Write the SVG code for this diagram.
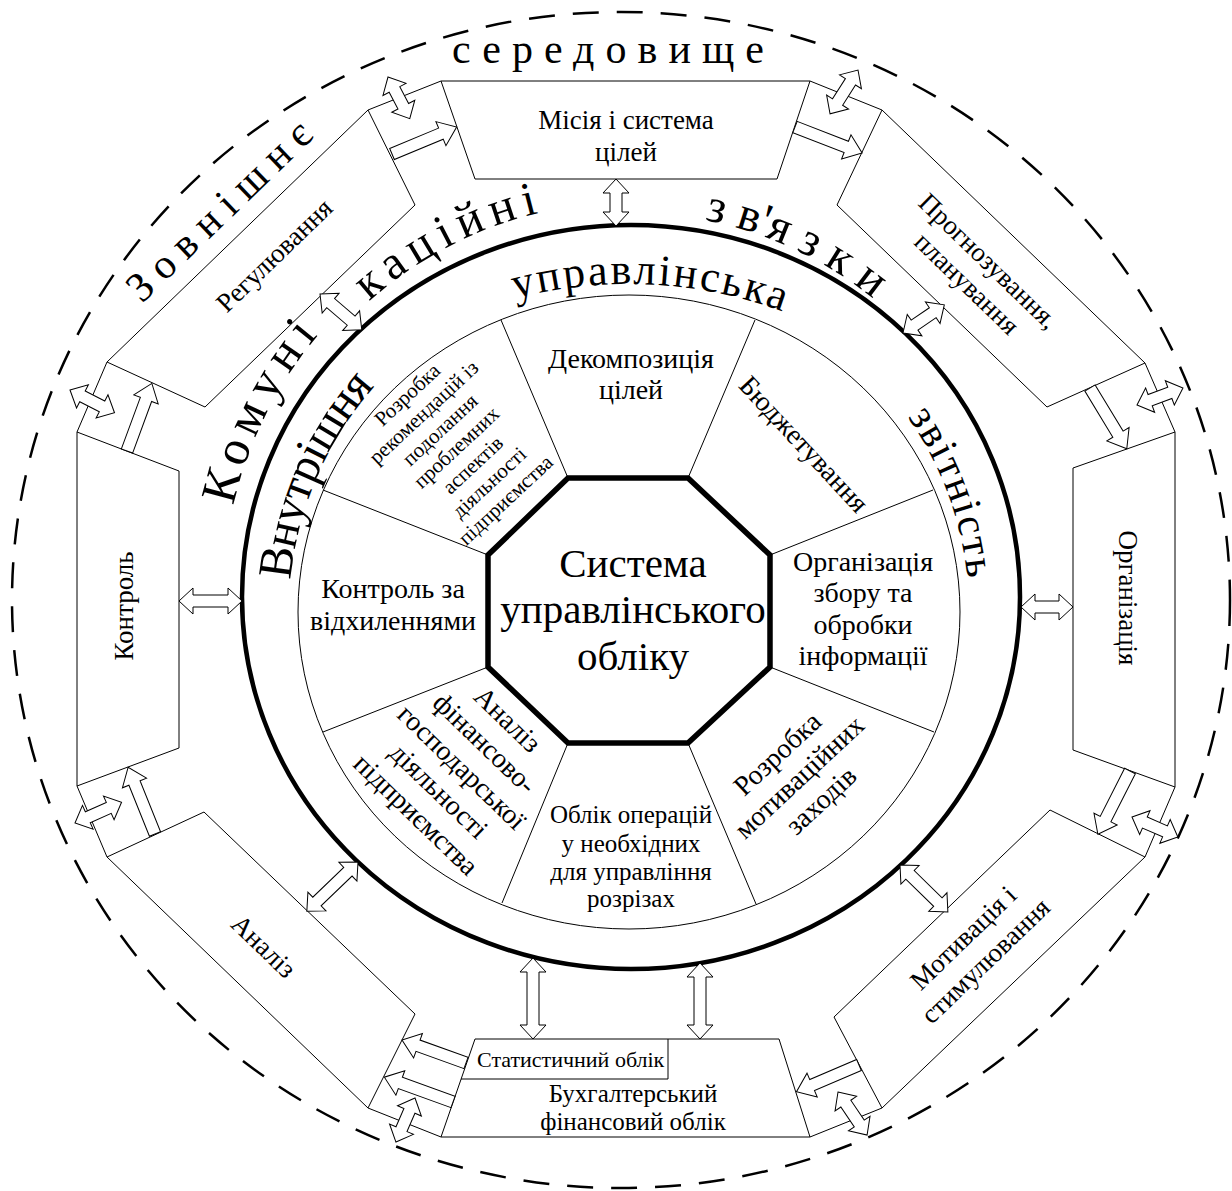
<svg xmlns="http://www.w3.org/2000/svg" width="1232" height="1191" viewBox="0 0 1232 1191">
<style>
.bx{fill:#fff;stroke:#000;stroke-width:1}
.ln{fill:none;stroke:#000;stroke-width:1}
.ar{fill:#fff;stroke:#000;stroke-width:1}
.t{font-family:"Liberation Serif","Times New Roman",serif;fill:#000}
.c{text-anchor:middle}
.bt{font-size:27px}
.st{font-size:28px}
</style>
<defs>
<path id="pUpr" d="M185,728 A444,444 0 0 1 1073,728"/>
<path id="pRing" d="M289,612 A340,340 0 0 1 969,612"/>
<path id="pKom1" d="M223,597 A408,408 0 0 1 1039,597"/>
<path id="pKom2" d="M236,597 A395,395 0 0 1 1026,597"/>
<path id="pKom3" d="M247,597 A384,384 0 0 1 1015,597"/>
</defs>
<rect width="1232" height="1191" fill="#fff"/>

<g id="environment">
<ellipse cx="621" cy="600" rx="609" ry="588" fill="none" stroke="#000" stroke-width="2.5" stroke-dasharray="26 18"/>
<text class="t" x="452" y="63" font-size="42" textLength="312" lengthAdjust="spacing">середовище</text>
<text class="t" transform="translate(220,212) rotate(-44)" x="-120" y="12" font-size="42" textLength="240" lengthAdjust="spacing">Зовнішнє</text>
</g>

<g id="outer-frame">
<path class="ln" d="M810,81 L882,110 M1145,363 L1175,432 M1175,787 L1145,857 M882,1108 L810,1137 M441,1137 L368,1108 M107,857 L77,786 M77,432 L107,362 M368,110 L441,81"/>
</g>

<g id="box-misia">
<polygon class="bx" points="441,81 810,81 777,179 475,179"/>
<text class="t c bt" x="626" y="129">Місія і система</text>
<text class="t c bt" x="626" y="161">цілей</text>
</g>
<g id="box-prognoz">
<polygon class="bx" points="882,110 1145,363 1047,407 837,205"/>
<g transform="translate(977,273) rotate(44)">
<text class="t c bt" x="0" y="-7.5">Прогнозування,</text>
<text class="t c bt" x="0" y="23.5">планування</text>
</g>
</g>
<g id="box-organiz">
<polygon class="bx" points="1073,468 1175,432 1175,787 1073,750"/>
<text class="t c bt" transform="translate(1127,598) rotate(90)" x="0" y="8">Організація</text>
</g>
<g id="box-motiv">
<polygon class="bx" points="1050,810 1145,857 882,1108 834,1017"/>
<g transform="translate(975,950) rotate(-44)">
<text class="t c bt" x="0" y="-8">Мотивація і</text>
<text class="t c bt" x="0" y="24">стимулювання</text>
</g>
</g>
<g id="box-buh">
<polygon class="bx" points="475,1039 779,1039 810,1137 441,1137"/>
<path class="ln" d="M668,1039 V1079 H461"/>
<text class="t" x="477" y="1067" font-size="22">Статистичний облік</text>
<text class="t c" x="633" y="1102" font-size="25">Бухгалтерський</text>
<text class="t c" x="633" y="1130" font-size="25">фінансовий облік</text>
</g>
<g id="box-analiz">
<polygon class="bx" points="204,812 415,1014 368,1108 107,857"/>
<text class="t c bt" transform="translate(263,947) rotate(44)" x="0" y="8">Аналіз</text>
</g>
<g id="box-kontrol">
<polygon class="bx" points="77,432 179,471 179,748 77,786"/>
<text class="t c bt" transform="translate(125,606) rotate(-90)" x="0" y="8">Контроль</text>
</g>
<g id="box-regul">
<polygon class="bx" points="368,110 415,205 205,407 107,362"/>
<text class="t c bt" transform="translate(275,256) rotate(-44)" x="0" y="8">Регулювання</text>
</g>

<g id="reporting-ring">
<ellipse cx="631" cy="597" rx="389" ry="372" fill="none" stroke="#000" stroke-width="4.5"/>
<ellipse cx="629" cy="612" rx="331" ry="317" fill="none" stroke="#000" stroke-width="1"/>
<text class="t" font-size="44"><textPath href="#pUpr" startOffset="582" textLength="272" lengthAdjust="spacing">управлінська</textPath></text>
<text class="t" font-size="48"><textPath href="#pRing" startOffset="32" textLength="215" lengthAdjust="spacing">Внутрішня</textPath></text>
<text class="t" font-size="42"><textPath href="#pRing" startOffset="860" textLength="174" lengthAdjust="spacing">звітність</textPath></text>
<text class="t" font-size="50"><textPath href="#pKom1" startOffset="92" textLength="192" lengthAdjust="spacing">Комуні</textPath></text>
<text class="t" font-size="48"><textPath href="#pKom2" startOffset="334" textLength="193" lengthAdjust="spacing">каційні</textPath></text>
<text class="t" font-size="48"><textPath href="#pKom3" startOffset="677" textLength="188" lengthAdjust="spacing">з в'я з к и</textPath></text>
</g>

<g id="sectors">
<path class="ln" d="M568,478 L501,320 M688,478 L755,320 M770,555 L933,490 M770,667 L934,732 M688,743 L756,904 M568,743 L502,903 M488,667 L323,732 M488,555 L323,490"/>
</g>
<g id="sec-dekomp">
<text class="t c st" x="631" y="368">Декомпозиція</text>
<text class="t c st" x="631" y="399">цілей</text>
</g>
<g id="sec-budget">
<text class="t c st" transform="translate(803,445) rotate(47)" x="0" y="8">Бюджетування</text>
</g>
<g id="sec-zbir">
<text class="t c st" x="863" y="571">Організація</text>
<text class="t c st" x="863" y="602">збору та</text>
<text class="t c st" x="863" y="634">обробки</text>
<text class="t c st" x="863" y="665">інформації</text>
</g>
<g id="sec-motiv">
<g transform="translate(800,778) rotate(-43)">
<text class="t c st" x="0" y="-24">Розробка</text>
<text class="t c st" x="0" y="8">мотиваційних</text>
<text class="t c st" x="0" y="40">заходів</text>
</g>
</g>
<g id="sec-oblik">
<text class="t c" font-size="25" x="631" y="823">Облік операцій</text>
<text class="t c" font-size="25" x="631" y="852">у необхідних</text>
<text class="t c" font-size="25" x="631" y="880">для управління</text>
<text class="t c" font-size="25" x="631" y="907">розрізах</text>
</g>
<g id="sec-analiz">
<g transform="translate(461,768) rotate(44)">
<text class="t c st" x="0" y="-58">Аналіз</text>
<text class="t c st" x="0" y="-25">фінансово-</text>
<text class="t c st" x="0" y="8">господарської</text>
<text class="t c st" x="0" y="41">діяльності</text>
<text class="t c st" x="0" y="74">підприємства</text>
</g>
</g>
<g id="sec-kontrol">
<text class="t c st" x="393" y="598">Контроль за</text>
<text class="t c st" x="393" y="630">відхиленнями</text>
</g>
<g id="sec-rekom">
<g transform="translate(457,448) rotate(-43)" font-size="21">
<text class="t c" x="0" y="-66">Розробка</text>
<text class="t c" x="0" y="-42">рекомендацій із</text>
<text class="t c" x="0" y="-18">подолання</text>
<text class="t c" x="0" y="6">проблемних</text>
<text class="t c" x="0" y="30">аспектів</text>
<text class="t c" x="0" y="54">діяльності</text>
<text class="t c" x="0" y="78">підприємства</text>
</g>
</g>

<g id="core">
<polygon points="568,478 688,478 770,555 770,667 688,743 568,743 488,667 488,555" fill="#fff" stroke="#000" stroke-width="5.5"/>
<text class="t c" font-size="41" x="633" y="577">Система</text>
<text class="t c" font-size="41" x="633" y="623">управлінського</text>
<text class="t c" font-size="41" x="633" y="670">обліку</text>
</g>

<g id="connectors">
<polygon class="ar" transform="translate(616,179) rotate(90)" points="0,0 14,-13 14,-6 33,-6 33,-13 47,0 33,13 33,6 14,6 14,13"/>
<polygon class="ar" transform="translate(903,333) rotate(-34.3)" points="0,0 14,-13 14,-6 36,-6 36,-13 50,0 36,13 36,6 14,6 14,13"/>
<polygon class="ar" transform="translate(1021,607)" points="0,0 14,-13 14,-6 38,-6 38,-13 52,0 38,13 38,6 14,6 14,13"/>
<polygon class="ar" transform="translate(900,865) rotate(44.4)" points="0,0 14,-13 14,-6 53,-6 53,-13 67,0 53,13 53,6 14,6 14,13"/>
<polygon class="ar" transform="translate(533,958) rotate(90)" points="0,0 14,-13 14,-6 67,-6 67,-13 81,0 67,13 67,6 14,6 14,13"/>
<polygon class="ar" transform="translate(700,963) rotate(90)" points="0,0 14,-13 14,-6 62,-6 62,-13 76,0 62,13 62,6 14,6 14,13"/>
<polygon class="ar" transform="translate(358,862) rotate(136.1)" points="0,0 14,-13 14,-6 57,-6 57,-13 71,0 57,13 57,6 14,6 14,13"/>
<polygon class="ar" transform="translate(179,601)" points="0,0 14,-13 14,-6 49,-6 49,-13 63,0 49,13 49,6 14,6 14,13"/>
<polygon class="ar" transform="translate(320,294) rotate(40.6)" points="0,0 14,-13 14,-6 41,-6 41,-13 55,0 41,13 41,6 14,6 14,13"/>

<polygon class="ar" transform="translate(388,77) rotate(62.4)" points="0,0 14,-13 14,-6 33,-6 33,-13 47,0 33,13 33,6 14,6 14,13"/>
<polygon class="ar" transform="translate(858,70) rotate(122.5)" points="0,0 14,-13 14,-6 38,-6 38,-13 52,0 38,13 38,6 14,6 14,13"/>
<polygon class="ar" transform="translate(1137,405) rotate(-20.3)" points="0,0 14,-13 14,-6 35,-6 35,-13 49,0 35,13 35,6 14,6 14,13"/>
<polygon class="ar" transform="translate(1132,817) rotate(23.5)" points="0,0 14,-13 14,-6 36,-6 36,-13 50,0 36,13 36,6 14,6 14,13"/>
<polygon class="ar" transform="translate(838,1092) rotate(56)" points="0,0 14,-13 14,-6 38,-6 38,-13 52,0 38,13 38,6 14,6 14,13"/>
<polygon class="ar" transform="translate(415,1098) rotate(113.4)" points="0,0 14,-13 14,-6 34,-6 34,-13 48,0 34,13 34,6 14,6 14,13"/>
<polygon class="ar" transform="translate(75,823) rotate(-24.1)" points="0,0 14,-13 14,-6 37,-6 37,-13 51,0 37,13 37,6 14,6 14,13"/>
<polygon class="ar" transform="translate(70,390) rotate(27.1)" points="0,0 14,-13 14,-6 36,-6 36,-13 50,0 36,13 36,6 14,6 14,13"/>

<polygon class="ar" transform="translate(392,154) rotate(-22.6)" points="0,-6 53,-6 53,-13 70,0 53,13 53,6 0,6"/>
<polygon class="ar" transform="translate(795,127) rotate(21.2)" points="0,-6 55,-6 55,-13 72,0 55,13 55,6 0,6"/>
<polygon class="ar" transform="translate(1090,388) rotate(58.8)" points="0,-6 54,-6 54,-13 71,0 54,13 54,6 0,6"/>
<polygon class="ar" transform="translate(1130,771) rotate(116.9)" points="0,-6 54,-6 54,-13 71,0 54,13 54,6 0,6"/>
<polygon class="ar" transform="translate(859,1065) rotate(156.8)" points="0,-6 51,-6 51,-13 68,0 51,13 51,6 0,6"/>
<polygon class="ar" transform="translate(466,1063) rotate(199.8)" points="0,-6 51,-6 51,-13 68,0 51,13 51,6 0,6"/>
<polygon class="ar" transform="translate(453,1102) rotate(199.9)" points="0,-6 56,-6 56,-13 73,0 56,13 56,6 0,6"/>
<polygon class="ar" transform="translate(155,834) rotate(248.1)" points="0,-6 55,-6 55,-13 72,0 55,13 55,6 0,6"/>
<polygon class="ar" transform="translate(127,451) rotate(-69.8)" points="0,-6 55,-6 55,-13 72,0 55,13 55,6 0,6"/>
</g>
</svg>
